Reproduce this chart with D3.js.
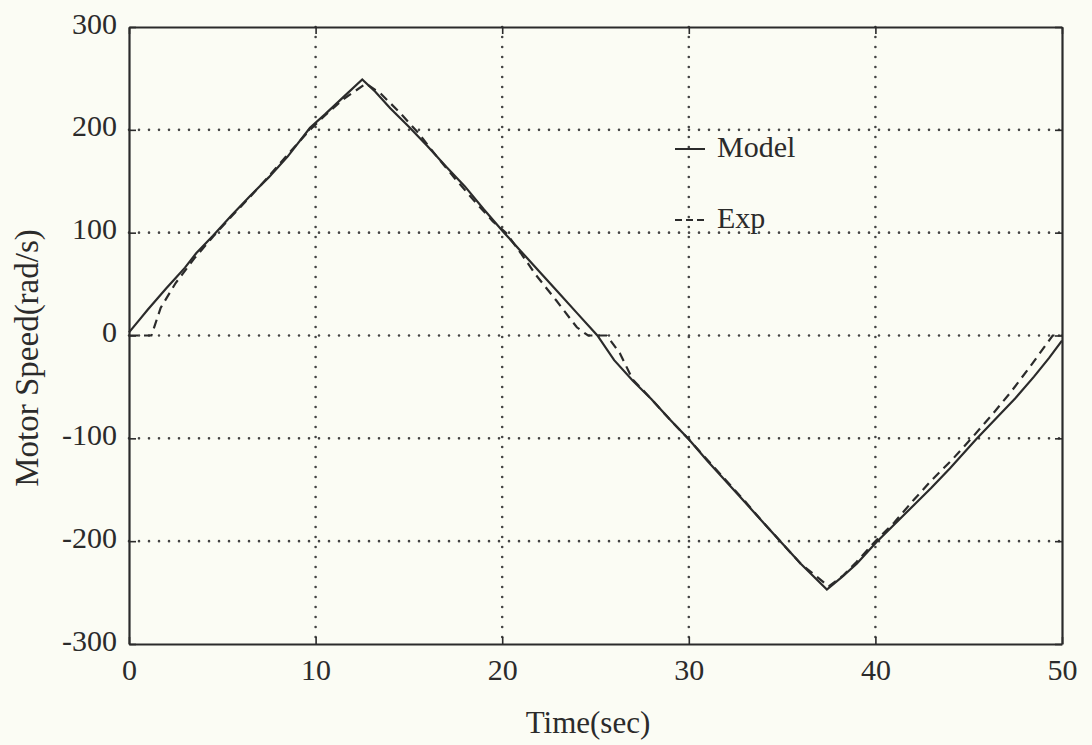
<!DOCTYPE html>
<html>
<head>
<meta charset="utf-8">
<script src="https://cdn.jsdelivr.net/npm/d3@7"></script>
<style>
  body { margin: 0; background: #fbfcf4; }
  text { font-family: "Liberation Serif", "DejaVu Serif", serif; fill: #2b2b2b; }
</style>
</head>
<body>
<div class="vis"></div>
<script>
// time axis values (sec) and motor speed (rad/s)
const modelTime = [0, 0.5, 1, 2, 2.5, 3, 3.6, 4.5, 5.5, 6.5, 7.5, 8.5, 9.7, 10.5, 11.5, 12.5, 13.2, 14, 15, 16, 17, 18, 19, 20.1, 21, 22, 23, 24, 25.1, 26, 27, 28, 29, 30, 31, 32, 33, 34, 34.9, 36, 37.4, 38.2, 39, 40.05, 41, 42, 43, 44, 45.4, 46.5, 47.5, 48.5, 49.3, 50];
const modelSpeed = [3, 14, 25, 46, 56, 66, 80, 97, 117, 136, 154, 174, 202, 215, 232, 249, 237, 221, 203, 184, 164, 145, 123, 100, 82, 62, 42, 22, 0, -24, -44, -62, -82, -101, -122, -142, -162, -182, -200, -222, -247, -235, -222, -201, -184, -166, -148, -129, -101, -80, -61, -40, -22, -5];

const expTime = [0, 1.2, 1.7, 2.5, 3.5, 4.5, 5.5, 6.5, 7.5, 8.5, 9.7, 10.5, 11.5, 12.7, 13.5, 14.5, 15.5, 16.5, 17.5, 18.5, 19.5, 20.2, 21, 21.8, 22.9, 24, 24.6, 25.6, 26.3, 27, 27.8, 29, 30, 31, 32, 33, 34, 35, 36, 37.5, 38.3, 39, 40, 41, 42, 43, 44.1, 45.2, 46.3, 47.3, 48.3, 49.1, 49.5, 50];
const expSpeed = [0, 0, 27, 51, 75, 96, 116, 135, 155, 176, 200, 214, 230, 245, 235, 217, 197, 174, 152, 131, 111, 100, 80, 59, 34, 8, 0, 0, -17, -43, -58, -82, -101, -121, -141, -161, -182, -202, -222, -244, -233, -220, -200, -182, -161, -141, -121, -99, -76, -54, -30, -10, 0, 0];

const xTicks = [0, 10, 20, 30, 40, 50];
const yTicks = [-300, -200, -100, 0, 100, 200, 300];

const legendNames = ["Model", "Exp"];

const width = 1092, height = 745;
const margin = { top: 27, right: 30, bottom: 101, left: 129 };
const w = width - margin.left - margin.right;
const h = height - margin.top - margin.bottom;

const svg = d3.select(".vis").append("svg")
  .attr("width", width)
  .attr("height", height);

const g = svg.append("g")
  .attr("transform", "translate(" + margin.left + "," + margin.top + ")");

const x = d3.scaleLinear().domain([0, 50]).range([0, w]);
const y = d3.scaleLinear().domain([-300, 300]).range([h, 0]);

// dotted grid
g.selectAll(".vgrid").data(xTicks.slice(1, -1)).enter().append("line")
  .attr("x1", d => x(d)).attr("x2", d => x(d))
  .attr("y1", 0).attr("y2", h)
  .attr("stroke", "#444").attr("stroke-width", 2.6)
  .attr("stroke-linecap", "round").attr("stroke-dasharray", "0,10");

g.selectAll(".hgrid").data(yTicks.slice(1, -1)).enter().append("line")
  .attr("y1", d => y(d)).attr("y2", d => y(d))
  .attr("x1", 0).attr("x2", w)
  .attr("stroke", "#444").attr("stroke-width", 2.6)
  .attr("stroke-linecap", "round").attr("stroke-dasharray", "0,10");

// axes, ticks pointing inward
const plain = d => String(d);
const xAxis = g.append("g").attr("transform", "translate(0," + h + ")")
  .call(d3.axisBottom(x).tickValues(xTicks).tickFormat(plain).tickSizeInner(-7).tickSizeOuter(0).tickPadding(15));
const xAxisTop = g.append("g")
  .call(d3.axisTop(x).tickValues(xTicks).tickSizeInner(-7).tickSizeOuter(0).tickFormat(""));
const yAxis = g.append("g")
  .call(d3.axisLeft(y).tickValues(yTicks).tickFormat(plain).tickSizeInner(-7).tickSizeOuter(0).tickPadding(12));
const yAxisRight = g.append("g").attr("transform", "translate(" + w + ",0)")
  .call(d3.axisRight(y).tickValues(yTicks).tickSizeInner(-7).tickSizeOuter(0).tickFormat(""));

[xAxis, xAxisTop, yAxis, yAxisRight].forEach(a => {
  a.select(".domain").attr("stroke", "#2b2b2b").attr("stroke-width", 2.2);
  a.selectAll(".tick line").attr("stroke", "#2b2b2b").attr("stroke-width", 1.6);
  a.selectAll("text").attr("font-size", 30).attr("fill", "#2b2b2b")
    .style("font-family", "'Liberation Serif', serif");
});
xAxis.selectAll("text").attr("dy", "0.71em");
yAxis.selectAll("text").attr("dy", "0.2em");

// curves
const line = d3.line().x(d => x(d[0])).y(d => y(d[1]));

g.append("path")
  .datum(expTime.map((t, i) => [t, expSpeed[i]]))
  .attr("fill", "none").attr("stroke", "#2b2b2b").attr("stroke-width", 2.2)
  .attr("stroke-dasharray", "9,6")
  .attr("d", line);

g.append("path")
  .datum(modelTime.map((t, i) => [t, modelSpeed[i]]))
  .attr("fill", "none").attr("stroke", "#2b2b2b").attr("stroke-width", 2.2)
  .attr("d", line);

// legend
const legend = g.append("g").attr("transform", "translate(" + (675 - margin.left) + "," + (149 - margin.top) + ")");
legendNames.forEach((name, i) => {
  const row = legend.append("g").attr("transform", "translate(0," + i * 71 + ")");
  row.append("line")
    .attr("x1", 0).attr("x2", 30).attr("y1", 0).attr("y2", 0)
    .attr("stroke", "#2b2b2b").attr("stroke-width", 2)
    .attr("stroke-dasharray", i === 0 ? null : "7,4");
  row.append("text")
    .attr("x", 42).attr("y", 8)
    .attr("font-size", 30)
    .text(name);
});

// axis titles
svg.append("text")
  .attr("x", 588).attr("y", 733)
  .attr("text-anchor", "middle")
  .attr("font-size", 31)
  .text("Time(sec)");

svg.append("text")
  .attr("transform", "translate(38,358) rotate(-90)")
  .attr("text-anchor", "middle")
  .attr("font-size", 33)
  .text("Motor Speed(rad/s)");
</script>
</body>
</html>
